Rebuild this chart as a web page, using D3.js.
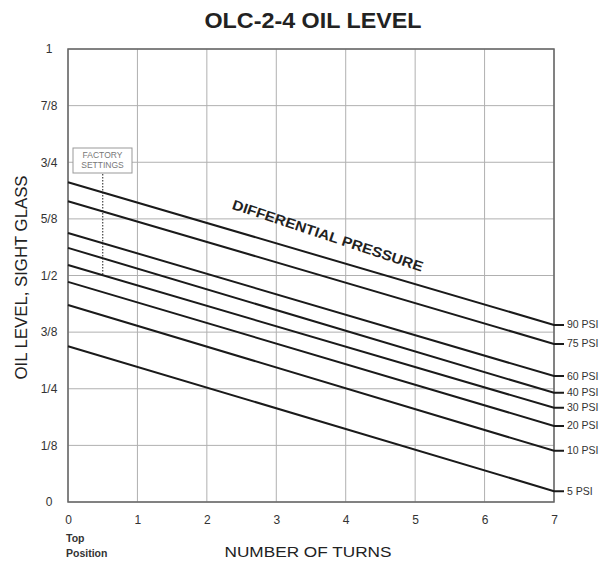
<!DOCTYPE html>
<html>
<head>
<meta charset="utf-8">
<script src="https://cdn.jsdelivr.net/npm/d3@7"></script>
<style>
  body { margin: 0; background: #fff; }
  svg { display: block; font-family: Arial, "Liberation Sans", sans-serif; }
</style>
</head>
<body>
<div id="chart"></div>
<script>
// turns on the adjuster, 0 = top position
const turnTicks = [0, 1, 2, 3, 4, 5, 6, 7];
// sight glass level, fractions of full
const levelTicks = [0, 1 / 8, 2 / 8, 3 / 8, 4 / 8, 5 / 8, 6 / 8, 7 / 8, 1];
const levelTickLabels = ['0', '1/8', '1/4', '3/8', '1/2', '5/8', '3/4', '7/8', '1'];

// one line per differential pressure, read at 0 and 7 turns
const psiLabels = ['90 PSI', '75 PSI', '60 PSI', '40 PSI', '30 PSI', '20 PSI', '10 PSI', '5 PSI'];
const levelAtTop = [0.706, 0.664, 0.594, 0.561, 0.523, 0.486, 0.435, 0.344];
const levelAtSeven = [0.391, 0.349, 0.278, 0.241, 0.208, 0.168, 0.113, 0.024];

const factoryTurns = 0.5;

const W = 604, H = 565;
const margin = { top: 49, right: 50, bottom: 63, left: 68 };
const innerW = W - margin.left - margin.right;
const innerH = H - margin.top - margin.bottom;

const svg = d3.select('#chart').append('svg')
  .attr('width', W)
  .attr('height', H);

svg.append('rect').attr('width', W).attr('height', H).attr('fill', '#fff');

const x = d3.scaleLinear().domain([0, 7]).range([0, innerW]);
const y = d3.scaleLinear().domain([0, 1]).range([innerH, 0]);

const g = svg.append('g').attr('transform', `translate(${margin.left},${margin.top})`);

// grid
g.append('g')
  .selectAll('line')
  .data(levelTicks)
  .join('line')
  .attr('x1', 0).attr('x2', innerW)
  .attr('y1', d => y(d)).attr('y2', d => y(d))
  .attr('stroke', '#b0b0b0')
  .attr('stroke-width', 1);

g.append('g')
  .selectAll('line')
  .data(turnTicks)
  .join('line')
  .attr('x1', d => x(d)).attr('x2', d => x(d))
  .attr('y1', 0).attr('y2', innerH)
  .attr('stroke', '#b0b0b0')
  .attr('stroke-width', 1);

// frame
g.append('rect')
  .attr('width', innerW).attr('height', innerH)
  .attr('fill', 'none')
  .attr('stroke', '#666')
  .attr('stroke-width', 1.5);

// axes (labels only)
const yAxis = g.append('g')
  .call(d3.axisLeft(y)
    .tickValues(levelTicks)
    .tickFormat((d, i) => levelTickLabels[i])
    .tickSize(0));
yAxis.select('.domain').remove();
yAxis.selectAll('text')
  .attr('x', -19)
  .attr('text-anchor', 'middle')
  .attr('font-size', 12)
  .attr('fill', '#333');

const xAxis = g.append('g')
  .attr('transform', `translate(0,${innerH})`)
  .call(d3.axisBottom(x).tickValues(turnTicks).tickFormat(d3.format('d')).tickSize(0));
xAxis.select('.domain').remove();
xAxis.selectAll('text')
  .attr('y', 13)
  .attr('font-size', 12)
  .attr('fill', '#333');

// factory settings marker
g.append('line')
  .attr('x1', x(factoryTurns)).attr('x2', x(factoryTurns))
  .attr('y1', 125).attr('y2', y(0.5))
  .attr('stroke', '#444')
  .attr('stroke-width', 1.2)
  .attr('stroke-dasharray', '1.5,1.5');

g.append('rect')
  .attr('x', 5).attr('y', 99)
  .attr('width', 59).attr('height', 25)
  .attr('fill', '#fff')
  .attr('stroke', '#999')
  .attr('stroke-width', 1);

g.append('text')
  .attr('y', 109)
  .attr('text-anchor', 'middle')
  .attr('font-size', 8.5)
  .attr('fill', '#777')
  .selectAll('tspan')
  .data(['FACTORY', 'SETTINGS'])
  .join('tspan')
  .attr('x', 34.5)
  .attr('dy', (d, i) => i ? 10 : 0)
  .text(d => d);

// pressure lines
const lines = psiLabels.map((label, i) => ({ label, y0: levelAtTop[i], y7: levelAtSeven[i] }));

g.append('g')
  .selectAll('path')
  .data(lines)
  .join('path')
  .attr('d', d => d3.line()([[x(0), y(d.y0)], [x(7), y(d.y7)], [x(7) + 10, y(d.y7)]]))
  .attr('fill', 'none')
  .attr('stroke', '#1a1a1a')
  .attr('stroke-width', 2);

g.append('g')
  .selectAll('text')
  .data(lines)
  .join('text')
  .attr('x', x(7) + 13)
  .attr('y', d => y(d.y7) + 3.5)
  .attr('font-size', 10.5)
  .attr('fill', '#333')
  .text(d => d.label);

// slanted caption along the lines
const angle = Math.atan2(y(levelAtSeven[0]) - y(levelAtTop[0]), x(7) - x(0)) * 180 / Math.PI + 2;
g.append('text')
  .attr('transform', `translate(${x(3.72)},${y(0.578)}) rotate(${angle})`)
  .attr('text-anchor', 'middle')
  .attr('font-size', 14)
  .attr('font-weight', 'bold')
  .attr('fill', '#222')
  .attr('textLength', 200)
  .attr('lengthAdjust', 'spacingAndGlyphs')
  .text('DIFFERENTIAL PRESSURE');

// titles
svg.append('text')
  .attr('x', 313).attr('y', 28)
  .attr('text-anchor', 'middle')
  .attr('font-size', 22)
  .attr('font-weight', 'bold')
  .attr('fill', '#222')
  .attr('textLength', 217)
  .attr('lengthAdjust', 'spacingAndGlyphs')
  .text('OLC-2-4 OIL LEVEL');

svg.append('text')
  .attr('transform', `translate(27,${margin.top + innerH / 2 + 2}) rotate(-90)`)
  .attr('text-anchor', 'middle')
  .attr('font-size', 16)
  .attr('fill', '#222')
  .attr('textLength', 204)
  .attr('lengthAdjust', 'spacingAndGlyphs')
  .text('OIL LEVEL, SIGHT GLASS');

svg.append('text')
  .attr('x', 308).attr('y', 557)
  .attr('text-anchor', 'middle')
  .attr('font-size', 15)
  .attr('fill', '#222')
  .attr('textLength', 167)
  .attr('lengthAdjust', 'spacingAndGlyphs')
  .text('NUMBER OF TURNS');

svg.append('text')
  .attr('y', 542)
  .attr('font-size', 10.5)
  .attr('font-weight', 'bold')
  .attr('fill', '#333')
  .selectAll('tspan')
  .data(['Top', 'Position'])
  .join('tspan')
  .attr('x', 66)
  .attr('dy', (d, i) => i ? 15 : 0)
  .text(d => d);
</script>
</body>
</html>
